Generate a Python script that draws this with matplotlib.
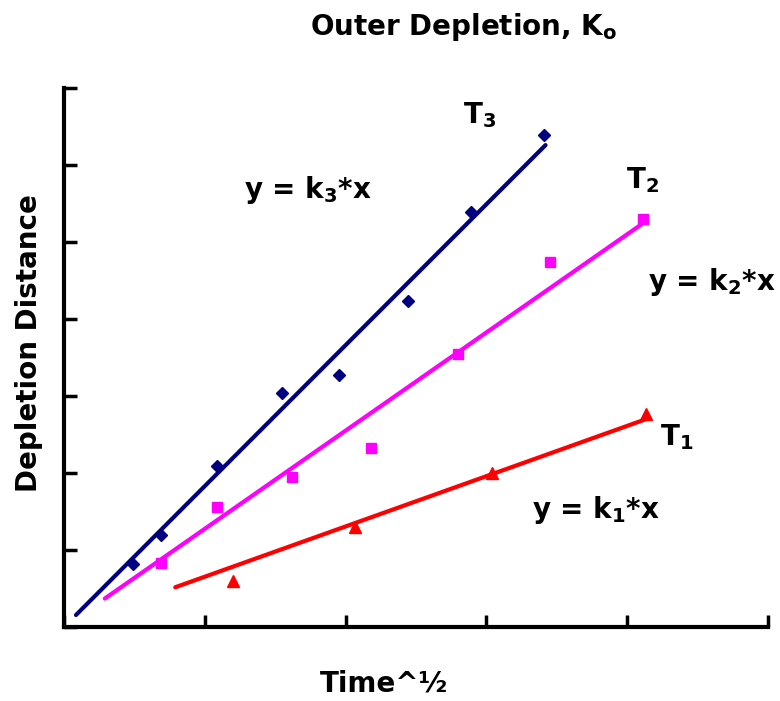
import numpy as np
import matplotlib.pyplot as plt

plt.rcParams["font.family"] = ["DejaVu Sans"]
plt.rcParams["font.weight"] = "bold"
plt.rcParams["mathtext.fontset"] = "custom"
plt.rcParams["mathtext.rm"] = "DejaVu Sans:bold"
plt.rcParams["mathtext.bf"] = "DejaVu Sans:bold"
plt.rcParams["mathtext.it"] = "DejaVu Sans:bold"
plt.rcParams["mathtext.default"] = "bf"

# T3 (navy diamonds)
t3_x = [0.49, 0.69, 1.09, 1.55, 1.95, 2.44, 2.89, 3.41]
t3_y = [0.82, 1.19, 2.09, 3.04, 3.27, 4.23, 5.39, 6.39]
# T2 (magenta squares)
t2_x = [0.69, 1.09, 1.62, 2.18, 2.80, 3.45, 4.11]
t2_y = [0.83, 1.56, 1.95, 2.32, 3.55, 4.74, 5.30]
# T1 (red triangles)
t1_x = [1.20, 2.07, 3.04, 4.13]
t1_y = [0.60, 1.30, 2.00, 2.77]

# fitted slopes y = k*x and the x-range each fit line covers
k3, k2, k1 = 1.83, 1.275, 0.653
fit3_x = [0.085, 3.42]
fit2_x = [0.29, 4.11]
fit1_x = [0.79, 4.13]

fig = plt.figure(figsize=(7.8, 7.01), dpi=100)
ax = fig.add_axes([64 / 780, 1 - 627 / 701, (768 - 64) / 780, (627 - 88) / 701])

ax.plot(fit3_x, k3 * np.array(fit3_x), color="#000080", lw=3, solid_capstyle="round")
ax.plot(fit2_x, k2 * np.array(fit2_x), color="#ff00ff", lw=3, solid_capstyle="round")
ax.plot(fit1_x, k1 * np.array(fit1_x), color="#ff0000", lw=3, solid_capstyle="round")

ax.plot(t3_x, t3_y, "D", color="#000080", ms=6, ls="none")
ax.plot(t2_x, t2_y, "s", color="#ff00ff", ms=7.5, ls="none")
ax.plot(t1_x, t1_y, "^", color="#ff0000", ms=8, ls="none")

ax.set_xlim(0, 5)
ax.set_ylim(0, 7)
ax.set_xticks(np.arange(0, 6))
ax.set_yticks(np.arange(0, 8))
ax.tick_params(direction="in", length=9, width=2.5, labelbottom=False, labelleft=False)
for side in ("top", "right"):
    ax.spines[side].set_visible(False)
for side in ("left", "bottom"):
    ax.spines[side].set_linewidth(3)

fs = 20
ax.text(2.95, 6.65, "T$_3$", fontsize=fs, ha="center", va="center")
ax.text(1.73, 5.68, "y = k$_3$*x", fontsize=fs, ha="center", va="center")
ax.text(4.11, 5.81, "T$_2$", fontsize=fs, ha="center", va="center")
ax.text(4.60, 4.48, "y = k$_2$*x", fontsize=fs, ha="center", va="center", clip_on=False)
ax.text(4.35, 2.47, "T$_1$", fontsize=fs, ha="center", va="center")
ax.text(3.78, 1.52, "y = k$_1$*x", fontsize=fs, ha="center", va="center")

fig.text(464 / 780, 1 - 27 / 701, "Outer Depletion, K$_o$", fontsize=fs, ha="center", va="center")
fig.text(384 / 780, 1 - 684 / 701, "Time^½", fontsize=fs, ha="center", va="center")
fig.text(29 / 780, 1 - 343 / 701, "Depletion Distance", fontsize=fs, ha="center", va="center",
         rotation=90)

fig.savefig("out.png", dpi=100)
